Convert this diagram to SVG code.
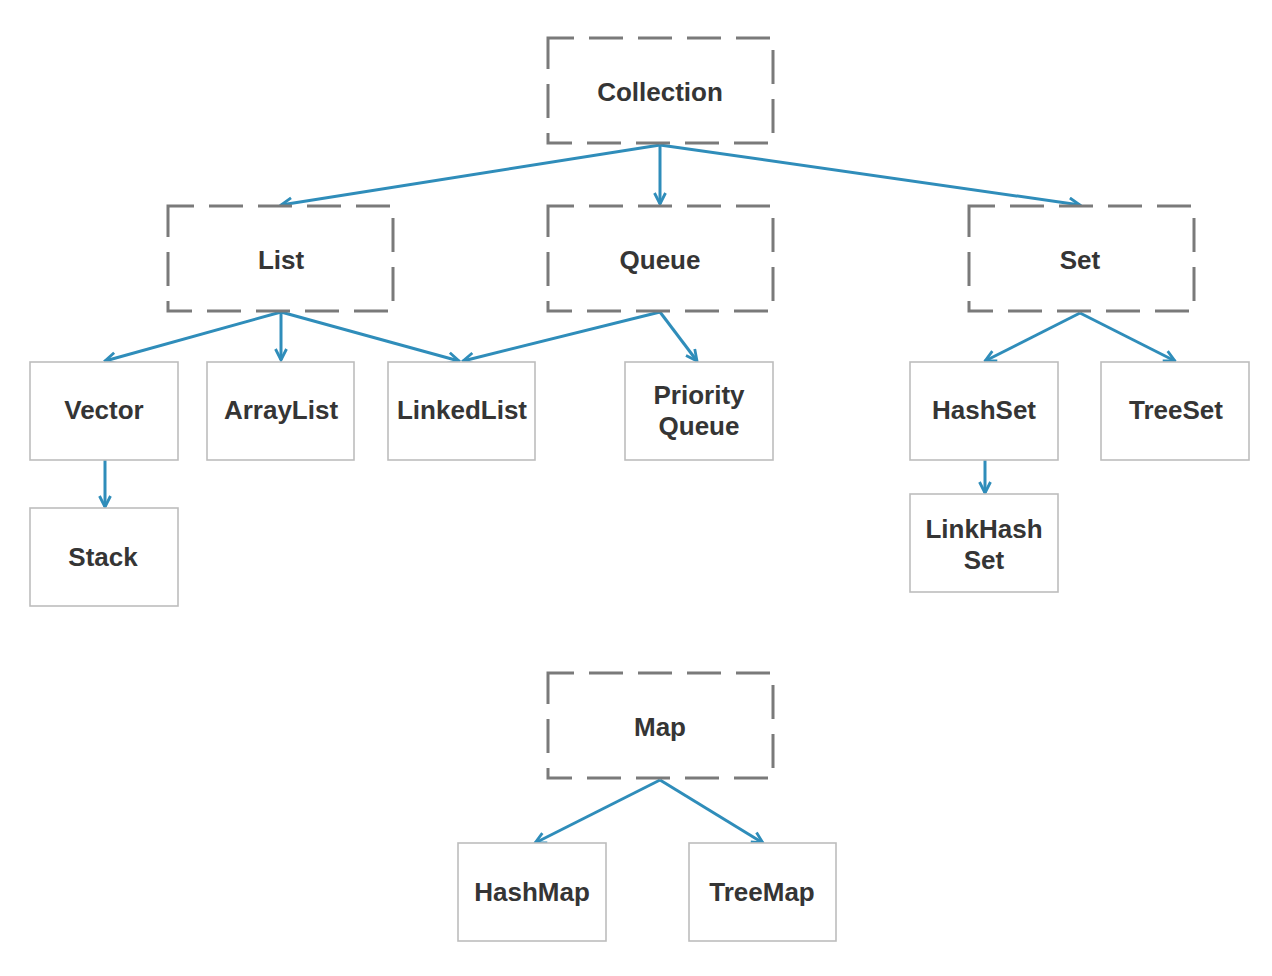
<svg xmlns="http://www.w3.org/2000/svg" width="1272" height="976" viewBox="0 0 1272 976">
  <style>
    .iface { fill: #ffffff; stroke: #7a7a7a; stroke-width: 3; stroke-dasharray: 34 15; stroke-dashoffset: 8; }
    .impl { fill: #ffffff; stroke: #bdbdbd; stroke-width: 1.6; }
    .label { font-family: "Liberation Sans", Arial, sans-serif; font-weight: bold; font-size: 26px; fill: #353535; text-anchor: middle; }
    .edge { fill: none; stroke: #2f8dba; stroke-width: 3; marker-end: url(#arrow); }
  </style>
  <defs>
    <marker id="arrow" viewBox="0 0 14 14" refX="12.5" refY="7" markerWidth="14" markerHeight="14" markerUnits="userSpaceOnUse" orient="auto">
      <path d="M1.5,1.5 L12.5,7 L1.5,12.5" fill="none" stroke="#2f8dba" stroke-width="2.8"/>
    </marker>
  </defs>
  <rect width="1272" height="976" fill="#ffffff"/>

  <g id="connectors">
    <path class="edge" d="M660,145 L281,205"/>
    <path class="edge" d="M660,145 L660,204"/>
    <path class="edge" d="M660,145 L1080,205"/>
    <path class="edge" d="M281,312 L105,361"/>
    <path class="edge" d="M281,312 L281,360"/>
    <path class="edge" d="M281,312 L459,361"/>
    <path class="edge" d="M660,312 L463,361"/>
    <path class="edge" d="M660,312 L697,361"/>
    <path class="edge" d="M1080,313 L985,361"/>
    <path class="edge" d="M1080,313 L1175,361"/>
    <path class="edge" d="M105,460 L105,507"/>
    <path class="edge" d="M985,460 L985,493"/>
    <path class="edge" d="M660,780 L535,843"/>
    <path class="edge" d="M660,780 L763,843"/>
  </g>

  <g id="collection"><rect class="iface" x="548" y="38" width="225" height="105"/><text class="label" x="660" y="101">Collection</text></g>
  <g id="list"><rect class="iface" x="168" y="206" width="225" height="105"/><text class="label" x="281" y="269">List</text></g>
  <g id="queue"><rect class="iface" x="548" y="206" width="225" height="105"/><text class="label" x="660" y="269">Queue</text></g>
  <g id="set"><rect class="iface" x="969" y="206" width="225" height="105"/><text class="label" x="1080" y="269">Set</text></g>
  <g id="map"><rect class="iface" x="548" y="673" width="225" height="105"/><text class="label" x="660" y="736">Map</text></g>

  <g id="vector"><rect class="impl" x="30" y="362" width="148" height="98"/><text class="label" x="104" y="419">Vector</text></g>
  <g id="arraylist"><rect class="impl" x="207" y="362" width="147" height="98"/><text class="label" x="281" y="419">ArrayList</text></g>
  <g id="linkedlist"><rect class="impl" x="388" y="362" width="147" height="98"/><text class="label" x="462" y="419">LinkedList</text></g>
  <g id="priorityqueue"><rect class="impl" x="625" y="362" width="148" height="98"/><text class="label" x="699" y="404">Priority</text><text class="label" x="699" y="435">Queue</text></g>
  <g id="hashset"><rect class="impl" x="910" y="362" width="148" height="98"/><text class="label" x="984" y="419">HashSet</text></g>
  <g id="treeset"><rect class="impl" x="1101" y="362" width="148" height="98"/><text class="label" x="1176" y="419">TreeSet</text></g>
  <g id="stack"><rect class="impl" x="30" y="508" width="148" height="98"/><text class="label" x="103" y="566">Stack</text></g>
  <g id="linkhashset"><rect class="impl" x="910" y="494" width="148" height="98"/><text class="label" x="984" y="538">LinkHash</text><text class="label" x="984" y="569">Set</text></g>
  <g id="hashmap"><rect class="impl" x="458" y="843" width="148" height="98"/><text class="label" x="532" y="901">HashMap</text></g>
  <g id="treemap"><rect class="impl" x="689" y="843" width="147" height="98"/><text class="label" x="762" y="901">TreeMap</text></g>
</svg>
